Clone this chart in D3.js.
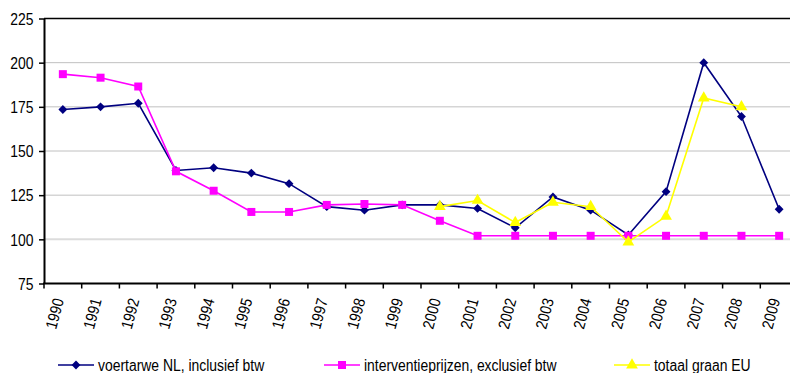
<!DOCTYPE html>
<html>
<head>
<meta charset="utf-8">
<script src="https://cdn.jsdelivr.net/npm/d3@7"></script>
<style>
  html, body { margin: 0; padding: 0; background: #fff; }
  svg { display: block; }
  text { font-family: "Liberation Sans Narrow", "Arial Narrow", "Liberation Sans", Arial, sans-serif; fill: #000; }
</style>
</head>
<body>
<svg id="chart" width="790" height="373"></svg>
<script>
// Years on the category axis
const years = ["1990","1991","1992","1993","1994","1995","1996","1997","1998","1999",
               "2000","2001","2002","2003","2004","2005","2006","2007","2008","2009"];

// Feed wheat NL, incl. VAT
const voertarwe = [173.5, 175, 177, 139, 140.5, 137.5, 131.5, 118.5, 116.5, 119.5,
                   119.5, 117.5, 106.5, 124, 116.5, 102.5, 127, 200, 169.5, 117];

// Intervention prices, excl. VAT
const interventie = [193.5, 191.5, 186.5, 138.5, 127.5, 115.5, 115.5, 119.5, 120, 119.5,
                     110.5, 102, 102, 102, 102, 102, 102, 102, 102, 102];

// Total grain EU (2000-2008 only)
const graanEU = [null, null, null, null, null, null, null, null, null, null,
                 118.5, 122, 109.5, 121, 118.5, 98.5, 113, 180, 175, null];

const yTicks = [75, 100, 125, 150, 175, 200, 225];

const seriesNames = ["voertarwe NL, inclusief btw", "interventieprijzen, exclusief btw", "totaal graan EU"];

const svg = d3.select("#chart");

// Horizontal squeeze for a narrow typeface look
const narrow = 0.87;

const plotLeft = 44, plotTop = 18.5, plotBottom = 283.5, band = 37.7;
const plotRight = plotLeft + band * years.length;

const x = d3.scaleBand().domain(years).range([plotLeft, plotRight]).padding(0);
const y = d3.scaleLinear().domain([75, 225]).range([plotBottom, plotTop]);

// Horizontal gridlines
svg.append("g").selectAll("line")
  .data(yTicks.filter(t => t > 75 && t < 225))
  .join("line")
  .attr("x1", plotLeft).attr("x2", plotRight)
  .attr("y1", d => y(d)).attr("y2", d => y(d))
  .attr("stroke", d => d === 100 ? "#dcdcdc" : "#c0c0c0")
  .attr("stroke-width", d => d === 100 ? 2 : 1);

// Top border of the plot area
svg.append("line")
  .attr("x1", plotLeft).attr("x2", plotRight)
  .attr("y1", y(225)).attr("y2", y(225))
  .attr("stroke", "#000").attr("stroke-width", 1.5);

// Y axis
const yAxis = svg.append("g")
  .attr("transform", `translate(${plotLeft},0)`)
  .call(d3.axisLeft(y).tickValues(yTicks).tickSize(5).tickPadding(5).tickSizeOuter(0));
yAxis.attr("font-family", null).attr("font-size", null);
yAxis.select(".domain").attr("stroke", "#000").attr("stroke-width", 2);
yAxis.selectAll(".tick line").attr("stroke", "#000").attr("stroke-width", 1.5);
yAxis.selectAll(".tick text")
  .attr("font-size", 16)
  .attr("x", 0)
  .attr("dy", "0.36em")
  .attr("transform", `translate(-10.5,0) scale(${narrow},1)`);

// X axis: ticks on category boundaries
const xAxisG = svg.append("g");
xAxisG.append("line")
  .attr("x1", plotLeft - 1).attr("x2", plotRight)
  .attr("y1", plotBottom).attr("y2", plotBottom)
  .attr("stroke", "#000").attr("stroke-width", 2);
xAxisG.selectAll("line.tick")
  .data(years.map(yr => x(yr)).concat([plotRight]))
  .join("line")
  .attr("class", "tick")
  .attr("x1", d => d).attr("x2", d => d)
  .attr("y1", plotBottom).attr("y2", plotBottom + 5)
  .attr("stroke", "#000").attr("stroke-width", 1.5);

xAxisG.selectAll("text")
  .data(years)
  .join("text")
  .attr("text-anchor", "end")
  .attr("dominant-baseline", "central")
  .attr("font-size", 16)
  .attr("transform", d => `translate(${x(d) + band / 2 - 4.5},${plotBottom + 15}) rotate(-75) scale(${narrow},1)`)
  .text(d => d);

const cx = d => x(d) + band / 2;

function drawSeries(values, color) {
  const pts = years.map((yr, i) => ({ yr, v: values[i] })).filter(p => p.v != null);
  const line = d3.line().x(p => cx(p.yr)).y(p => y(p.v));
  svg.append("path")
    .datum(pts)
    .attr("d", line)
    .attr("fill", "none")
    .attr("stroke", color)
    .attr("stroke-width", 1.6);
  return pts;
}

const symDiamond = d3.symbol().type(d3.symbolDiamond2).size(50);
const symSquare = d3.symbol().type(d3.symbolSquare).size(64);
const symTriangle = d3.symbol().type(d3.symbolTriangle).size(60);

function drawMarkers(pts, sym, color) {
  svg.append("g").selectAll("path")
    .data(pts)
    .join("path")
    .attr("d", sym)
    .attr("transform", p => `translate(${cx(p.yr)},${y(p.v)})`)
    .attr("fill", color);
}

const pNavy = drawSeries(voertarwe, "#000080");
drawMarkers(pNavy, symDiamond, "#000080");
const pPink = drawSeries(interventie, "#ff00ff");
drawMarkers(pPink, symSquare, "#ff00ff");
const pYellow = drawSeries(graanEU, "#ffff00");
drawMarkers(pYellow, symTriangle, "#ffff00");

// Legend
const legendItems = [
  { name: seriesNames[0], color: "#000080", sym: symDiamond, x: 58 },
  { name: seriesNames[1], color: "#ff00ff", sym: symSquare, x: 324 },
  { name: seriesNames[2], color: "#ffff00", sym: symTriangle, x: 614 }
];
const lg = svg.append("g").selectAll("g").data(legendItems).join("g")
  .attr("transform", d => `translate(${d.x},365)`);
lg.append("line").attr("x1", 0).attr("x2", 36).attr("y1", 0).attr("y2", 0)
  .attr("stroke", d => d.color).attr("stroke-width", 1.6);
lg.append("path").attr("d", d => d.sym()).attr("transform", "translate(18,0)")
  .attr("fill", d => d.color);
lg.append("text").attr("font-size", 16)
  .attr("transform", `translate(40,6) scale(${narrow},1)`)
  .text(d => d.name);
</script>
</body>
</html>
